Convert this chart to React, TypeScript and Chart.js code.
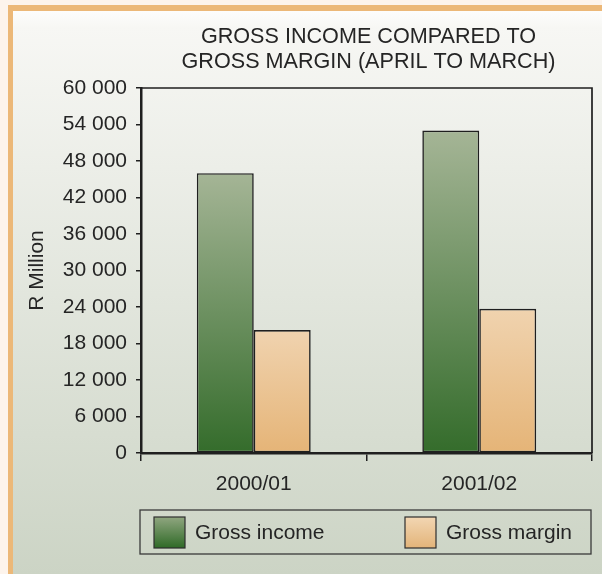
import React, { useEffect, useRef } from "react";
import { Chart, registerables } from "chart.js";

Chart.register(...registerables);

const categories = ["2000/01", "2001/02"];
const grossIncome = [46000, 53000];
const grossMargin = [20200, 23700];
const seriesLabels = ["Gross income", "Gross margin"];
const titleLines = ["GROSS INCOME COMPARED TO", "GROSS MARGIN (APRIL TO MARCH)"];
const yAxisTitle = "R Million";
const yMin = 0;
const yMax = 60000;
const yStep = 6000;

const FONT = "'Liberation Sans', Arial, Helvetica, sans-serif";
const TEXT = "#252525";
const LINE = "#1f1f1f";

const greenStops = ["#a5b596", "#346c2b"];
const orangeStops = ["#f0d3af", "#e5b477"];

function fmt(v: number) {
  return String(v).replace(/\B(?=(\d{3})+(?!\d))/g, " ");
}

function barGradient(stops: string[]) {
  return (ctx: any) => {
    const chart = ctx.chart;
    const y = chart.scales && chart.scales.y;
    if (!y || ctx.raw == null) return stops[1];
    const top = y.getPixelForValue(ctx.raw);
    const bottom = y.getPixelForValue(0);
    if (!isFinite(top) || !isFinite(bottom) || top === bottom) return stops[1];
    const g = chart.ctx.createLinearGradient(0, top, 0, bottom);
    g.addColorStop(0, stops[0]);
    g.addColorStop(1, stops[1]);
    return g;
  };
}

const decorPlugin = {
  id: "decor",
  beforeDraw(chart: any) {
    const { ctx, width, height } = chart;
    ctx.save();
    ctx.fillStyle = "#fdf4ec";
    ctx.fillRect(0, 0, width, height);
    ctx.fillStyle = "#ecb878";
    ctx.fillRect(8, 5, width - 8, height - 5);
    const g = ctx.createLinearGradient(0, 11, 0, height);
    g.addColorStop(0, "#fdfdfc");
    g.addColorStop(0.03, "#f7f7f4");
    g.addColorStop(1, "#ccd4c5");
    ctx.fillStyle = g;
    ctx.fillRect(13, 11, width - 13, height - 11);
    ctx.restore();
  },
  afterDraw(chart: any) {
    const { ctx, chartArea } = chart;
    const { left, right, top, bottom } = chartArea;
    ctx.save();
    // plot frame (top & right)
    ctx.strokeStyle = LINE;
    ctx.lineWidth = 1.7;
    ctx.beginPath();
    ctx.moveTo(left, top);
    ctx.lineTo(right, top);
    ctx.lineTo(right, bottom);
    ctx.stroke();

    // title
    ctx.fillStyle = TEXT;
    ctx.font = `21.6px ${FONT}`;
    ctx.textAlign = "center";
    ctx.textBaseline = "middle";
    const cx = (left + right) / 2 + 2;
    titleLines.forEach((t, i) => ctx.fillText(t, cx, 37 + i * 25));

    // legend
    const lx0 = left - 1;
    const lx1 = right - 1;
    const ly0 = 510;
    const ly1 = 554;
    ctx.strokeStyle = "#3a3a3a";
    ctx.lineWidth = 1.3;
    ctx.strokeRect(lx0, ly0, lx1 - lx0, ly1 - ly0);
    const items = [
      { x: 154, stops: ["#90a680", "#2f6a27"] },
      { x: 405, stops: ["#f2d6b3", "#e3b479"] },
    ];
    chart.data.datasets.forEach((ds: any, i: number) => {
      const it = items[i];
      const sy0 = 517;
      const sy1 = 548;
      const gg = ctx.createLinearGradient(0, sy0, 0, sy1);
      gg.addColorStop(0, it.stops[0]);
      gg.addColorStop(1, it.stops[1]);
      ctx.fillStyle = gg;
      ctx.fillRect(it.x, sy0, 31, sy1 - sy0);
      ctx.strokeStyle = "#2e2e2e";
      ctx.lineWidth = 1.2;
      ctx.strokeRect(it.x, sy0, 31, sy1 - sy0);
      ctx.fillStyle = TEXT;
      ctx.font = `21px ${FONT}`;
      ctx.textAlign = "left";
      ctx.textBaseline = "middle";
      ctx.fillText(ds.label, it.x + 41, 533);
    });
    ctx.restore();
  },
};

export default function App() {
  const ref = useRef<HTMLCanvasElement | null>(null);

  useEffect(() => {
    document.body.style.margin = "0";
    const canvas = ref.current;
    if (!canvas) return;
    const chart = new Chart(canvas, {
      type: "bar",
      data: {
        labels: categories,
        datasets: [
          {
            label: seriesLabels[0],
            data: grossIncome,
            backgroundColor: barGradient(greenStops) as any,
            borderColor: LINE,
            borderWidth: 1.6,
            borderSkipped: false,
          },
          {
            label: seriesLabels[1],
            data: grossMargin,
            backgroundColor: barGradient(orangeStops) as any,
            borderColor: LINE,
            borderWidth: 1.6,
            borderSkipped: false,
          },
        ],
      },
      options: {
        responsive: false,
        animation: false,
        devicePixelRatio: 1,
        layout: { padding: { top: 88, right: 10, bottom: 61, left: 0 } },
        plugins: {
          legend: { display: false },
          title: { display: false },
          tooltip: { enabled: false },
        },
        datasets: {
          bar: { barPercentage: 1, categoryPercentage: 0.505 },
        },
        scales: {
          x: {
            offset: true,
            grid: {
              offset: true,
              drawOnChartArea: false,
              drawTicks: true,
              tickLength: 8,
              color: LINE,
              lineWidth: 1.5,
            },
            border: { color: LINE, width: 2.5 },
            ticks: {
              color: TEXT,
              font: { family: FONT, size: 21 },
              padding: 11,
              maxRotation: 0,
            },
            afterFit: (s: any) => {
              s.height = 60;
            },
          },
          y: {
            min: yMin,
            max: yMax,
            grid: {
              drawOnChartArea: false,
              drawTicks: true,
              tickLength: 5,
              color: LINE,
              lineWidth: 1.5,
            },
            border: { color: LINE, width: 2.5 },
            ticks: {
              stepSize: yStep,
              color: TEXT,
              font: { family: FONT, size: 21 },
              padding: 9,
              callback: (v: any) => fmt(Number(v)),
            },
            title: {
              display: true,
              text: yAxisTitle,
              color: TEXT,
              font: { family: FONT, size: 21 },
              padding: { top: 25, bottom: 0 },
            },
            afterFit: (s: any) => {
              s.width = 141;
            },
          },
        },
      },
      plugins: [decorPlugin],
    });
    return () => chart.destroy();
  }, []);

  return (
    <canvas
      ref={ref}
      width={602}
      height={574}
      style={{ display: "block", width: 602, height: 574 }}
    />
  );
}
